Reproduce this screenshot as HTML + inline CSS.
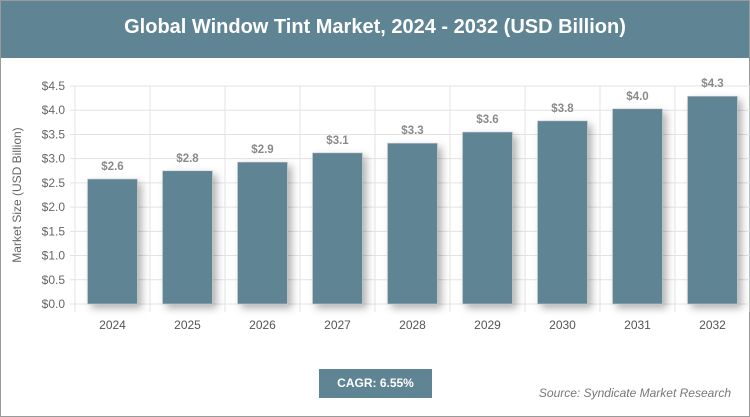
<!DOCTYPE html>
<html><head><meta charset="utf-8"><style>
body{margin:0;width:750px;height:417px;overflow:hidden;background:#fff;font-family:"Liberation Sans",sans-serif}
#wrap{position:absolute;left:0;top:0;width:748px;height:415px;border:1px solid #9a9a9a}
#title{position:absolute;left:0;top:0;width:748px;height:57px;background:#5f8494;color:#fff;font-weight:bold;font-size:20px;text-align:center;line-height:52px;font-family:"Liberation Sans",sans-serif}
#cagr{position:absolute;left:318px;top:368px;width:113px;height:29px;background:#5f8494;color:#fff;font-weight:bold;font-size:12px;text-align:center;line-height:28px}
#src{position:absolute;right:18px;top:385px;color:#777;font-style:italic;font-size:12px}
</style></head><body>
<div id="wrap">
<div id="title">Global Window Tint Market, 2024 - 2032 (USD Billion)</div>
<svg id="chart" width="750" height="417" style="position:absolute;left:-1px;top:-1px">
<defs><filter id="sh" x="-30%" y="-10%" width="160%" height="130%"><feDropShadow dx="4" dy="4" stdDeviation="4" flood-color="#000" flood-opacity="0.3"/></filter></defs>
</svg>
<div id="cagr">CAGR: 6.55%</div>
<div id="src">Source: Syndicate Market Research</div>
</div>
<script>
const categories=["2024","2025","2026","2027","2028","2029","2030","2031","2032"];
const values=[2.58,2.75,2.93,3.12,3.32,3.55,3.78,4.03,4.29];
const valueLabels=["$2.6","$2.8","$2.9","$3.1","$3.3","$3.6","$3.8","$4.0","$4.3"];
const yTicks=[0,0.5,1,1.5,2,2.5,3,3.5,4,4.5];
const svg=document.getElementById('chart');
const NS='http://www.w3.org/2000/svg';
const L=75,R=750,T=86,B=304,yMax=4.5;
const bw=(R-L)/categories.length;
const y=v=>B-(v/yMax)*(B-T);
const x=i=>L+bw*i;
function mk(t,a){const e=document.createElementNS(NS,t);for(const k in a)e.setAttribute(k,a[k]);svg.appendChild(e);return e;}
yTicks.forEach(v=>{
  const g=mk('line',{x1:L-5,x2:R,y1:y(v),y2:y(v),stroke:'#e3e3e3'});
  
  
  const t=mk('text',{x:L-10,y:y(v)+4,'text-anchor':'end','font-size':12,fill:'#666'});
  t.textContent='$'+v.toFixed(1);
  
  
});
for(let i=0;i<=categories.length;i++){
  const g=mk('line',{x1:x(i),x2:x(i),y1:T,y2:B+8,stroke:'#e3e3e3'});
  
  
}
categories.forEach((c,i)=>{
  const cx=x(i)+bw/2;
  const r=mk('rect',{x:cx-25,y:y(values[i]),width:50,height:B-y(values[i]),fill:'#5f8494',stroke:'#d0d0d0','stroke-width':0.6,filter:'url(#sh)'});
  
  
  const t=mk('text',{x:cx,y:y(values[i])-9,'text-anchor':'middle','font-size':11.5,'font-weight':'bold',fill:'#8a8a8a'});
  t.textContent=valueLabels[i];
  
  
  const xl=mk('text',{x:cx,y:329,'text-anchor':'middle','font-size':12,fill:'#555'});
  xl.textContent=c;
  
  
});
const yt=mk('text',{x:0,y:0,'text-anchor':'middle','font-size':12,fill:'#666',transform:'translate(21,195) rotate(-90)'});
yt.textContent='Market Size (USD Billion)';


</script>
</body></html>
